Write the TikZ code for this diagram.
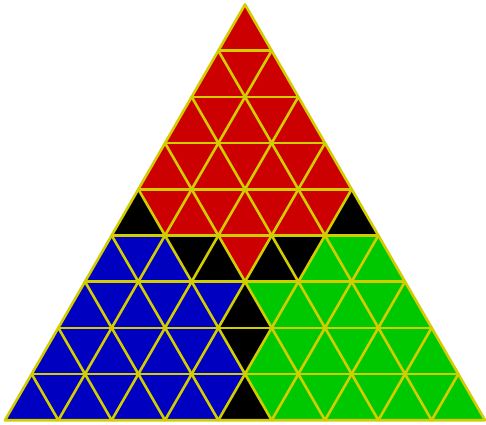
\documentclass[tikz,border=0pt]{standalone}
\definecolor{tred}{RGB}{204,0,0}
\definecolor{tblue}{RGB}{0,0,192}
\definecolor{tgreen}{RGB}{0,200,0}
\definecolor{tline}{RGB}{210,205,0}
\begin{document}
\begin{tikzpicture}[x=1pt,y=-1pt,
  gridline/.style={draw=tline,line width=2.6pt,line cap=round,line join=round}]
\useasboundingbox (0,0) rectangle (486,424);
\foreach \r in {0,...,9}{
  \foreach \i in {0,...,\r}{
    \coordinate (p\i-\r) at ({245+(\i-\r/2)*53.333},{4.5+\r*46.188});
  }
}
% red base
\fill[tred] (p0-0) -- (p0-9) -- (p9-9) -- cycle;
% blue region
\fill[tblue] (p0-5) -- (p1-5) -- (p2-6) -- (p3-6) -- (p3-7) -- (p4-8) -- (p4-9) -- (p0-9) -- cycle;
% green region
\fill[tgreen] (p4-5) -- (p5-5) -- (p9-9) -- (p5-9) -- (p4-8) -- (p4-7) -- (p3-6) -- (p4-6) -- cycle;
% black cells
\fill[black] (p0-4) -- (p0-5) -- (p1-5) -- cycle;
\fill[black] (p4-4) -- (p4-5) -- (p5-5) -- cycle;
\fill[black] (p1-5) -- (p2-5) -- (p2-6) -- cycle;
\fill[black] (p2-5) -- (p2-6) -- (p3-6) -- cycle;
\fill[black] (p3-5) -- (p3-6) -- (p4-6) -- cycle;
\fill[black] (p3-5) -- (p4-5) -- (p4-6) -- cycle;
\fill[black] (p3-6) -- (p3-7) -- (p4-7) -- cycle;
\fill[black] (p3-7) -- (p4-7) -- (p4-8) -- cycle;
\fill[black] (p4-8) -- (p4-9) -- (p5-9) -- cycle;
% grid lines
\foreach \r in {1,...,8}{ \draw[gridline] (p0-\r) -- (p\r-\r); }
\foreach \i in {1,...,8}{ \draw[gridline] (p\i-\i) -- (p\i-9); }
\foreach \j in {1,...,8}{
  \pgfmathtruncatemacro\e{9-\j}
  \draw[gridline] (p0-\j) -- (p\e-9);
}
\draw[gridline] (p0-0) -- (p0-9) -- (p9-9) -- cycle;
\end{tikzpicture}
\end{document}
